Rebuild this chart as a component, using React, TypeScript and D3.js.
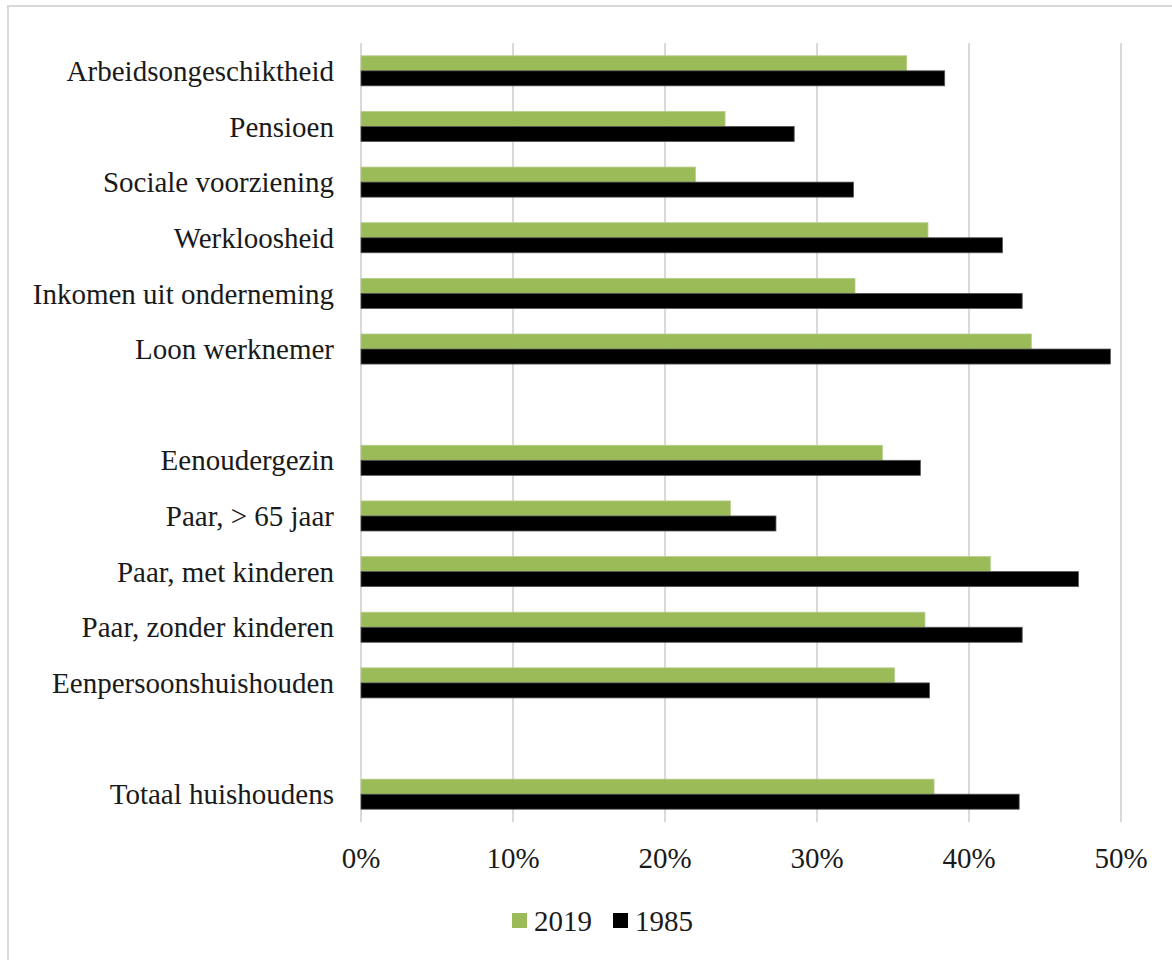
import React from 'react';
import * as d3 from 'd3';

// empty strings are the gaps between the groups
const CATEGORIES = [
  'Arbeidsongeschiktheid',
  'Pensioen',
  'Sociale voorziening',
  'Werkloosheid',
  'Inkomen uit onderneming',
  'Loon werknemer',
  '',
  'Eenoudergezin',
  'Paar, > 65 jaar',
  'Paar, met kinderen',
  'Paar, zonder kinderen',
  'Eenpersoonshuishouden',
  '',
  'Totaal huishoudens',
];

const VALUES_2019 = [35.9, 23.95, 22.0, 37.3, 32.5, 44.1, null, 34.3, 24.3, 41.4, 37.1, 35.1, null, 37.7];
const VALUES_1985 = [38.4, 28.5, 32.4, 42.2, 43.5, 49.3, null, 36.8, 27.3, 47.2, 43.5, 37.4, null, 43.3];

const SERIES = ['2019', '1985'];
const COLORS: Record<string, string> = { '2019': '#9BBB59', '1985': '#000000' };
const STROKES: Record<string, string> = { '2019': '#b5cc88', '1985': '#555555' };
const X_TICKS = [0, 10, 20, 30, 40, 50];

const FONT = 'Liberation Serif';
const TEXT = '#1a1a1a';

const width = 1172;
const height = 960;
const margin = { top: 43, right: 51, bottom: 138, left: 361 };
const innerW = width - margin.left - margin.right;
const innerH = height - margin.top - margin.bottom;

const App: React.FC = () => {
  const x = d3.scaleLinear().domain([0, 50]).range([0, innerW]);
  const y = d3
    .scaleBand<number>()
    .domain(d3.range(CATEGORIES.length))
    .range([0, innerH])
    .paddingInner(0.46)
    .paddingOuter(0.23);
  const ySub = d3.scaleBand().domain(SERIES).range([0, y.bandwidth()]);

  const seriesValues: Record<string, (number | null)[]> = {
    '2019': VALUES_2019,
    '1985': VALUES_1985,
  };

  const legendX = [0, 101];

  return (
    <svg
      width={width}
      height={height}
      style={{ position: 'absolute', left: 0, top: 0, display: 'block' }}
      role="img"
      aria-label="Percentage per inkomensbron en huishoudtype, 2019 en 1985"
    >
      <rect width={width} height={height} fill="#fff" />
      <rect x={8} y={6} width={width + 20} height={height + 20} fill="none" stroke="#d9d9d9" strokeWidth={2} />

      <g transform={`translate(${margin.left},${margin.top})`}>
        {X_TICKS.map((t) => (
          <line key={`g${t}`} x1={x(t)} x2={x(t)} y1={0} y2={innerH} stroke="#d9d9d9" strokeWidth={2} />
        ))}

        {SERIES.map((s) =>
          seriesValues[s].map((v, i) =>
            v == null ? null : (
              <rect
                key={`${s}-${i}`}
                x={x(0)}
                y={(y(i) ?? 0) + (ySub(s) ?? 0)}
                width={x(v) - x(0)}
                height={ySub.bandwidth()}
                fill={COLORS[s]}
                stroke={STROKES[s]}
                strokeWidth={0.8}
              />
            )
          )
        )}

        {CATEGORIES.map((c, i) =>
          c ? (
            <text
              key={`c${i}`}
              x={-27}
              y={(y(i) ?? 0) + y.bandwidth() / 2}
              dy="0.35em"
              textAnchor="end"
              fontFamily={FONT}
              fontSize={29}
              fill={TEXT}
            >
              {c}
            </text>
          ) : null
        )}

        {X_TICKS.map((t) => (
          <text
            key={`t${t}`}
            x={x(t)}
            y={innerH + 46}
            textAnchor="middle"
            fontFamily={FONT}
            fontSize={29}
            fill={TEXT}
          >
            {`${t}%`}
          </text>
        ))}
      </g>

      <g transform="translate(512, 913)">
        {SERIES.map((s, i) => (
          <g key={s} transform={`translate(${legendX[i]},0)`}>
            <rect width={15} height={15} fill={COLORS[s]} />
            <text x={22} y={17.5} fontFamily={FONT} fontSize={29} fill={TEXT}>
              {s}
            </text>
          </g>
        ))}
      </g>
    </svg>
  );
};

export default App;
